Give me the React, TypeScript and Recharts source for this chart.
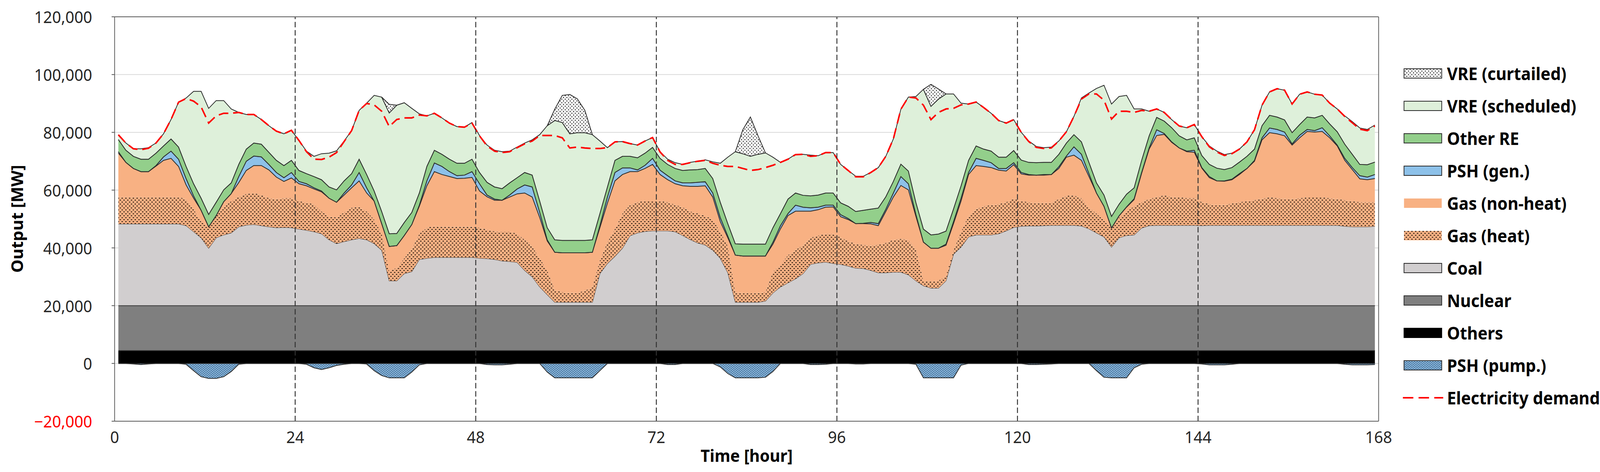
import React from 'react';
import { ComposedChart, Area, Line, XAxis, YAxis, CartesianGrid, ReferenceLine } from 'recharts';

const FONT = "'Noto Sans', 'DejaVu Sans', sans-serif";
const W = 4286;
const H = 1208;

// Fixed layers (MW)
const OTHERS_TOP = 4400;
const NUCLEAR_TOP = 20000;

// Cumulative tops of each layer (MW), hours 1..168 (plotted at the middle of each hour)
const coalTop = [
  48300, 48300, 48300, 48300, 48300, 48300, 48300, 48300, 48300, 47700, 45600, 43500,
  39900, 43500, 44500, 45200, 47300, 47900, 48100, 47700, 47300, 47000, 47100, 47000,
  46500, 46100, 45600, 44900, 42800, 41500, 42200, 42800, 43300, 42800, 41500, 39200,
  28600, 28600, 31100, 31800, 36000, 36400, 36700, 36700, 36700, 36700, 36700, 36700,
  36400, 36300, 36000, 35500, 35300, 35000, 32200, 30000, 26500, 23800, 21200, 21200,
  21200, 21200, 21200, 21200, 31100, 34600, 37100, 39900, 44200, 45200, 45700, 45900,
  45900, 45900, 45600, 44300, 42900, 41700, 41000, 39200, 36400, 31400, 21200, 21200,
  21200, 21200, 21600, 24400, 26500, 27900, 29300, 31100, 34300, 34800, 35100, 34600,
  34300, 33700, 33000, 32900, 32200, 31400, 31400, 31600, 31600, 30700, 28600, 26900,
  26100, 26100, 28600, 37800, 40300, 43800, 44500, 44500, 44500, 44900, 45900, 47100,
  47500, 47600, 47600, 47700, 47800, 47800, 47800, 47800, 47600, 46600, 45200, 43800,
  40300, 43500, 44300, 44500, 46900, 47700, 47800, 47800, 47800, 47800, 47800, 47800,
  47700, 47800, 47800, 47800, 47800, 47800, 47800, 47800, 47800, 47800, 47800, 47800,
  47800, 47800, 47800, 47800, 47800, 47800, 47800, 47500, 47300, 47300, 47300, 47500,
];

const gasHeatTop = [
  57600, 57600, 57600, 57600, 57600, 57600, 57600, 57600, 57600, 56900, 53400, 49100,
  47300, 51200, 54100, 56200, 57600, 58700, 59000, 58300, 57200, 56900, 57200, 57200,
  56200, 55600, 55100, 52600, 50900, 50500, 52300, 53900, 54200, 52600, 49800, 44900,
  31800, 33200, 36400, 39600, 44900, 47000, 47600, 47300, 47300, 47300, 47300, 47300,
  47000, 46300, 45700, 45600, 45600, 44900, 42800, 40500, 36400, 32200, 25400, 24700,
  24400, 24500, 25100, 26500, 35700, 42000, 46600, 51900, 54800, 55800, 56300, 56300,
  56200, 55800, 54900, 54100, 52600, 51900, 51100, 49800, 45600, 40600, 24500, 24400,
  24200, 24400, 24700, 31800, 34300, 37500, 39200, 41000, 43500, 44300, 44900, 44900,
  43600, 42400, 41300, 41000, 40800, 41000, 41700, 42800, 43100, 42800, 39600, 28600,
  28300, 28600, 30400, 39200, 45600, 51200, 53400, 54400, 54800, 55100, 55800, 57000,
  56200, 55800, 55500, 55500, 55600, 56900, 58000, 58200, 57200, 54100, 51900, 49500,
  46900, 50500, 52600, 54400, 55800, 56900, 57600, 58200, 57600, 57500, 57200, 57200,
  55800, 55100, 54800, 54900, 55300, 55800, 56200, 56500, 57000, 57500, 57200, 57000,
  56900, 57200, 57500, 57500, 57500, 57200, 56900, 56500, 56200, 55800, 55800, 55800,
];

const gasTop = [
  72800, 69600, 67500, 66400, 66400, 68300, 70300, 71000, 68200, 61800, 57200, 53000,
  47300, 51200, 56000, 58800, 62600, 66800, 68500, 68500, 67000, 64500, 63000, 64200,
  62200, 61500, 60400, 59400, 57200, 55800, 58300, 60800, 63200, 59000, 56200, 48400,
  40500, 40800, 44300, 48100, 54400, 61500, 66400, 65400, 64700, 64000, 64100, 64400,
  59700, 57700, 56500, 56500, 57600, 58700, 59000, 57600, 50500, 42400, 38500, 38300,
  38300, 38300, 38300, 38500, 47000, 55500, 63200, 65400, 66400, 66400, 67500, 68900,
  65400, 63600, 62200, 61500, 61300, 61300, 61500, 57600, 49100, 43500, 37500, 37200,
  37200, 37200, 37200, 41300, 46600, 51200, 52700, 52700, 52700, 53200, 54100, 54200,
  50800, 49800, 48400, 48400, 48300, 47700, 52600, 57600, 61600, 60100, 50900, 42000,
  39900, 39900, 40900, 48400, 56200, 65400, 68500, 68200, 67800, 66900, 66600, 68800,
  65600, 65200, 65200, 65200, 65400, 67500, 71400, 72100, 70300, 64700, 59000, 54400,
  46900, 51100, 54100, 56700, 65800, 74200, 78900, 79300, 76500, 74600, 73300, 73100,
  67600, 64300, 63200, 63100, 63600, 65400, 67500, 70000, 77400, 79900, 79500, 78800,
  75600, 78100, 80300, 80100, 80300, 78100, 75300, 70300, 67100, 63900, 63600, 64000,
];

const pshGenTop = [
  73300, 69600, 67500, 66400, 66400, 68500, 71500, 73500, 70700, 64000, 58000, 53000,
  47300, 51200, 56000, 58800, 64700, 70000, 71800, 71500, 68900, 66100, 64300, 66100,
  63000, 62200, 60800, 59700, 57200, 55800, 59000, 61800, 66100, 60800, 56200, 48400,
  40500, 40800, 44300, 48100, 54800, 63200, 69400, 68200, 66400, 65000, 65200, 66400,
  62200, 58300, 56900, 56500, 58300, 60400, 61800, 61100, 52300, 42800, 38500, 38300,
  38300, 38300, 38300, 38500, 47700, 57600, 66100, 67700, 67700, 67000, 68600, 71000,
  66900, 65000, 63200, 62500, 62500, 62700, 62900, 59000, 50500, 44100, 37500, 37200,
  37200, 37200, 37200, 42000, 47700, 51900, 54800, 54100, 53900, 54100, 54800, 54800,
  51500, 50200, 48400, 48500, 48800, 48400, 53400, 59000, 64700, 62200, 51600, 42000,
  39900, 39900, 41300, 49100, 57200, 66100, 71000, 70300, 69500, 67500, 67500, 69500,
  66100, 65400, 65200, 65400, 65400, 68100, 71800, 75000, 72400, 65700, 59000, 54400,
  46900, 51100, 54200, 57000, 66100, 74600, 80900, 79600, 76700, 74600, 73500, 73800,
  67800, 64700, 63200, 63200, 63800, 65700, 67500, 70300, 78100, 81500, 81000, 80100,
  76000, 79000, 81000, 80600, 81600, 78800, 75600, 71000, 67800, 65000, 64500, 65400,
];

const otherReTop = [
  77500, 73800, 71700, 70700, 70700, 72800, 75300, 77700, 74900, 68200, 62200, 57200,
  51600, 55800, 60100, 62500, 68900, 74200, 76300, 75900, 73100, 70300, 68500, 70300,
  66800, 65700, 64700, 63600, 61100, 60100, 63200, 65700, 70700, 65400, 59700, 52600,
  44900, 45000, 48800, 52300, 59000, 68200, 73800, 72400, 70700, 69300, 69300, 70700,
  66100, 62700, 61100, 60500, 62500, 64300, 66100, 65200, 56200, 47000, 42800, 42600,
  42600, 42600, 42600, 42800, 51900, 61100, 70300, 71700, 71700, 71200, 72800, 74800,
  71000, 68900, 67500, 66800, 67000, 67100, 67500, 64000, 55800, 48400, 41400, 41300,
  41300, 41300, 41300, 47000, 51900, 56900, 59000, 58200, 58000, 58300, 59000, 59000,
  55600, 54400, 52600, 53000, 53400, 53800, 57700, 63000, 69000, 66600, 55700, 46500,
  44500, 44800, 45800, 53500, 61500, 70300, 75300, 74200, 73500, 71400, 71400, 73700,
  70400, 69600, 69500, 69600, 69600, 72400, 76300, 79200, 76700, 69600, 62500, 58300,
  50900, 55100, 58600, 60800, 70300, 78800, 85200, 83900, 81600, 78800, 77400, 78100,
  72000, 68900, 67600, 67100, 67800, 69700, 71700, 74200, 82300, 85900, 85300, 84300,
  79900, 82700, 85300, 85000, 85900, 82900, 80200, 75900, 72400, 68900, 68800, 69700,
];

const vreTop = [
  79150, 76300, 74300, 74300, 74700, 76300, 79500, 84450, 90450, 91870, 94200, 94200,
  88300, 91000, 91000, 88100, 86900, 86200, 86200, 84450, 82300, 80400, 79500, 80700,
  77200, 73500, 71700, 72600, 72800, 73600, 77000, 80600, 87600, 90100, 92800, 92200,
  86700, 89400, 90250, 88300, 86400, 85700, 86600, 85000, 83200, 82000, 81800, 83400,
  78900, 75600, 73800, 73300, 73500, 74900, 76300, 77400, 79200, 82300, 84100, 83400,
  79500, 79900, 79900, 79200, 77000, 74700, 76700, 76800, 76100, 75600, 77000, 78200,
  73300, 70700, 69500, 68900, 69600, 70000, 70500, 69800, 69300, 71400, 73300, 72600,
  71700, 72400, 72900, 71400, 69600, 70700, 72400, 72400, 72100, 71900, 73000, 73000,
  68900, 66800, 64800, 64800, 66100, 67800, 71700, 77700, 88000, 92200, 92400, 94900,
  89000, 91500, 93300, 93300, 90100, 89800, 90500, 88600, 86600, 84100, 83200, 84400,
  80000, 77000, 75100, 74700, 74900, 77000, 80200, 85500, 91900, 93600, 95200, 96300,
  89800, 92400, 92800, 88100, 88100, 87300, 88100, 86900, 84400, 82200, 81600, 82700,
  78500, 75300, 73500, 72300, 72800, 74200, 76700, 80900, 89400, 94000, 95100, 94600,
  89800, 93200, 94000, 93200, 92900, 90100, 88100, 85700, 83700, 81500, 81000, 82500,
];

// VRE curtailed: hours where it exists and the top of the curtailed block
const curtHours = [35, 36, 37, 57, 58, 59, 60, 61, 62, 63, 82, 83, 84, 85, 86, 107, 108, 109, 110];
const curtTop = [92200, 89700, 89400, 82300, 88000, 92800, 93100, 91600, 87600, 79200, 73300, 80900, 85300, 78900, 72900, 94900, 96600, 95000, 93300];

// PSH pumping (negative, MW)
const pshPump = [
  0, 0, -200, -400, -200, 0, 0, 0, 0, -300, -2500, -4600,
  -5200, -5200, -4600, -2800, -300, 0, 0, 0, 0, 0, 0, 0,
  0, -300, -1500, -2100, -1500, -700, -300, 0, 0, -200, -2500, -4200,
  -5000, -5000, -5000, -3000, -500, 0, 0, 0, 0, 0, 0, 0,
  0, -400, -500, -500, -300, 0, 0, 0, 0, -3000, -5000, -5000,
  -5000, -5000, -5000, -5000, -2500, 0, 0, 0, 0, 0, 0, 0,
  0, -400, -400, 0, 0, 0, 0, 0, -1200, -3500, -5000, -5000,
  -5000, -5000, -4800, -2800, 0, 0, 0, 0, -400, -400, -300, 0,
  0, 0, -200, -200, 0, 0, 0, 0, 0, 0, -300, -5000,
  -5000, -5000, -5000, -5000, -600, 0, 0, 0, 0, 0, 0, 0,
  0, -400, -400, -300, -200, 0, 0, 0, 0, 0, -2500, -4800,
  -5000, -5000, -5000, -1500, -300, 0, 0, 0, 0, 0, 0, 0,
  -200, -500, -500, -500, -300, 0, 0, 0, 0, 0, 0, 0,
  0, 0, 0, 0, 0, 0, 0, -300, -500, -500, -500, -400,
];

const demand = [
  79150, 76300, 74300, 74000, 74500, 76300, 79500, 84450, 90450, 91700, 90800, 88800,
  83200, 85700, 86600, 86600, 86900, 86200, 86200, 84450, 82300, 80400, 79500, 80700,
  77200, 73300, 70700, 70600, 71400, 73000, 76800, 80600, 87600, 90000, 89500, 87300,
  82000, 84450, 85000, 85000, 86000, 85700, 86600, 85000, 83200, 82000, 81800, 83200,
  78800, 75300, 73500, 73000, 73300, 74700, 76000, 77000, 78900, 78900, 78900, 78100,
  74600, 74900, 74600, 74400, 74400, 74700, 76700, 76800, 76100, 75600, 77000, 78200,
  73200, 70300, 68900, 68900, 69500, 70000, 70300, 69300, 68600, 68200, 68200, 67500,
  66800, 67100, 67800, 68600, 69600, 70700, 72300, 72400, 71700, 71900, 73000, 73000,
  68900, 66800, 64600, 64600, 66100, 67800, 71700, 77700, 88000, 92200, 91900, 89400,
  84400, 86900, 88100, 88300, 89500, 89800, 90500, 88600, 86600, 84100, 83200, 84400,
  80000, 76800, 74800, 74400, 74600, 77000, 80200, 85500, 91500, 93300, 93300, 91100,
  84600, 87300, 87300, 86900, 87600, 87300, 88100, 86900, 84400, 82200, 81600, 82700,
  78500, 75000, 73200, 72000, 72600, 74200, 76700, 80900, 89400, 94000, 95100, 94600,
  89800, 93200, 94000, 93200, 92900, 90100, 88100, 85500, 83300, 81100, 80600, 82200,
];

const xTicks = [0, 24, 48, 72, 96, 120, 144, 168];
const dayLines = [24, 48, 72, 96, 120, 144];
const yTicks = [-20000, 0, 20000, 40000, 60000, 80000, 100000, 120000];

const COLORS = {
  others: '#000000',
  nuclear: '#7F7F7F',
  coal: '#D1CECF',
  gas: '#F8B183',
  pshGen: '#8DC1E9',
  otherRe: '#93CF8B',
  vre: '#DEF0DA',
  pump: '#9DC8EA',
  demand: '#FF0000',
  outline: '#2A2A2A',
};

const rows = coalTop.map((_, i) => {
  const up = (lo: number, hi: number) => [lo, Math.max(lo, hi)];
  const coal = up(NUCLEAR_TOP, coalTop[i]);
  const gasHeat = up(coal[1], gasHeatTop[i]);
  const gasNon = up(gasHeat[1], gasTop[i]);
  const pshGen = up(gasNon[1], pshGenTop[i]);
  const otherRe = up(pshGen[1], otherReTop[i]);
  const vre = up(otherRe[1], vreTop[i]);
  const ci = curtHours.indexOf(i);
  return {
    x: i + 0.5,
    others: [0, OTHERS_TOP],
    nuclear: [OTHERS_TOP, NUCLEAR_TOP],
    coal,
    gasHeat,
    gasNon,
    pshGen,
    otherRe,
    vre,
    curt: ci >= 0 ? up(vre[1], curtTop[ci]) : null,
    pump: [pshPump[i], 0],
    demand: demand[i],
  };
});

const fmt = (v: number) => (v < 0 ? '\u2212' : '') + Math.abs(v).toLocaleString('en-US');

const YTick = (props: any) => {
  const { x, y, payload } = props;
  const v = payload.value;
  return (
    <text x={x} y={y} textAnchor="end" dominantBaseline="central" fontSize={42} fontFamily={FONT} fill={v < 0 ? '#FF0000' : '#262626'}>
      {fmt(v)}
    </text>
  );
};

const XTick = (props: any) => {
  const { x, y, payload } = props;
  return (
    <text x={x} y={y} textAnchor="middle" dominantBaseline="central" fontSize={42} fontFamily={FONT} fill="#262626">
      {payload.value}
    </text>
  );
};

const Patterns = ({ p }: { p: string }) => (
  <defs>
    <pattern id={`${p}gasHeat`} width="10" height="10" patternUnits="userSpaceOnUse">
      <rect width="10" height="10" fill={COLORS.gas} />
      <rect x="0.5" y="1" width="3.6" height="2.4" fill="#2b1d12" />
      <rect x="5.5" y="6" width="3.6" height="2.4" fill="#2b1d12" />
    </pattern>
    <pattern id={`${p}curt`} width="9" height="9" patternUnits="userSpaceOnUse">
      <rect width="9" height="9" fill="#FFFFFF" />
      <circle cx="2" cy="2" r="1.4" fill="#111" />
      <circle cx="6.5" cy="6.5" r="1.4" fill="#111" />
    </pattern>
    <pattern id={`${p}pump`} width="7" height="5" patternUnits="userSpaceOnUse">
      <rect width="7" height="5" fill={COLORS.pump} />
      <rect x="0" y="0" width="4.5" height="1.5" fill="#24527f" />
      <rect x="3.5" y="2.5" width="3.5" height="1.5" fill="#24527f" />
      <rect x="0" y="2.5" width="1" height="1.5" fill="#24527f" />
    </pattern>
  </defs>
);

const legendItems = [
  { label: 'VRE (curtailed)', fill: 'url(#lgcurt)', stroke: COLORS.outline },
  { label: 'VRE (scheduled)', fill: COLORS.vre, stroke: COLORS.outline },
  { label: 'Other RE', fill: COLORS.otherRe, stroke: COLORS.outline },
  { label: 'PSH (gen.)', fill: COLORS.pshGen, stroke: COLORS.outline },
  { label: 'Gas (non-heat)', fill: COLORS.gas, stroke: 'none' },
  { label: 'Gas (heat)', fill: 'url(#lggasHeat)', stroke: 'none' },
  { label: 'Coal', fill: COLORS.coal, stroke: COLORS.outline },
  { label: 'Nuclear', fill: COLORS.nuclear, stroke: COLORS.outline },
  { label: 'Others', fill: COLORS.others, stroke: COLORS.others },
  { label: 'PSH (pump.)', fill: 'url(#lgpump)', stroke: COLORS.outline },
  { label: 'Electricity demand', line: true },
];

const areaCommon = {
  type: 'linear' as const,
  isAnimationActive: false,
  dot: false,
  activeDot: false,
  fillOpacity: 1,
  legendType: 'none' as const,
};

export default function App() {
  const vw = typeof document !== 'undefined' ? document.documentElement.clientWidth || window.innerWidth : W;
  const vh = typeof document !== 'undefined' ? document.documentElement.clientHeight || window.innerHeight : H;
  const sx = vw > 0 ? vw / W : 1;
  const sy = vh > 0 ? vh / H : 1;
  return (
    <div style={{ position: 'fixed', left: 0, top: 0, width: vw, height: vh, overflow: 'hidden', background: '#FFFFFF' }}>
      <div style={{ position: 'absolute', left: 0, top: 0, width: W, height: H, transform: `scale(${sx}, ${sy})`, transformOrigin: '0 0' }}>
        <ComposedChart width={W} height={H} data={rows} margin={{ top: 43, right: 593, bottom: 0, left: 0 }}>
          <Patterns p="ch" />
          <CartesianGrid vertical={false} stroke="#D9D9D9" strokeWidth={2} />
          <XAxis
            type="number"
            dataKey="x"
            domain={[0, 168]}
            ticks={xTicks}
            interval={0}
            height={130}
            tickLine={false}
            tickSize={0}
            tickMargin={40}
            tick={<XTick />}
            axisLine={{ stroke: '#595959', strokeWidth: 2 }}
            allowDataOverflow
          />
          <YAxis
            type="number"
            domain={[-20000, 120000]}
            ticks={yTicks}
            interval={0}
            width={307}
            tickSize={8}
            tickMargin={52}
            tick={<YTick />}
            tickLine={{ stroke: '#595959', strokeWidth: 2 }}
            axisLine={{ stroke: '#595959', strokeWidth: 2 }}
            allowDataOverflow
          />
          <Area {...areaCommon} dataKey="others" fill={COLORS.others} stroke={COLORS.others} strokeWidth={1} />
          <Area {...areaCommon} dataKey="nuclear" fill={COLORS.nuclear} stroke={COLORS.outline} strokeWidth={2} />
          <Area {...areaCommon} dataKey="coal" fill={COLORS.coal} stroke={COLORS.outline} strokeWidth={1.5} />
          <Area {...areaCommon} dataKey="gasHeat" fill="url(#chgasHeat)" stroke="none" />
          <Area {...areaCommon} dataKey="gasNon" fill={COLORS.gas} stroke="none" />
          <Area {...areaCommon} dataKey="pshGen" fill={COLORS.pshGen} stroke={COLORS.outline} strokeWidth={2} />
          <Area {...areaCommon} dataKey="otherRe" fill={COLORS.otherRe} stroke={COLORS.outline} strokeWidth={2} />
          <Area {...areaCommon} dataKey="vre" fill={COLORS.vre} stroke={COLORS.outline} strokeWidth={2} />
          <Area {...areaCommon} dataKey="curt" fill="url(#chcurt)" stroke={COLORS.outline} strokeWidth={2} connectNulls={false} />
          <Area {...areaCommon} dataKey="pump" fill="url(#chpump)" stroke={COLORS.outline} strokeWidth={2} />
          <Line
            type="linear"
            dataKey="demand"
            stroke={COLORS.demand}
            strokeWidth={4}
            strokeDasharray="26 13"
            dot={false}
            activeDot={false}
            isAnimationActive={false}
            legendType="none"
          />
          {dayLines.map((d) => (
            <ReferenceLine key={d} x={d} stroke="#333333" strokeWidth={2.5} strokeDasharray="14 7" />
          ))}
          <ReferenceLine y={120000} stroke="#595959" strokeWidth={2} />
          <ReferenceLine x={168} stroke="#595959" strokeWidth={2} />
        </ComposedChart>
        <svg width={W} height={H} style={{ position: 'absolute', left: 0, top: 0, pointerEvents: 'none' }}>
          <Patterns p="lg" />
          <text
            x={45}
            y={560}
            transform="rotate(-90 45 560)"
            textAnchor="middle"
            dominantBaseline="central"
            fontSize={43}
            fontWeight="bold"
            fontFamily={FONT}
            fill="#000"
          >
            Output [MW]
          </text>
          <text x={2000} y={1165} textAnchor="middle" dominantBaseline="central" fontSize={43} fontWeight="bold" fontFamily={FONT} fill="#000">
            Time [hour]
          </text>
          {legendItems.map((it, k) => {
            const cy = 188 + k * 83;
            return (
              <g key={it.label}>
                {it.line ? (
                  <line x1={3758} y1={cy} x2={3866} y2={cy} stroke={COLORS.demand} strokeWidth={4} strokeDasharray="28 14" />
                ) : (
                  <rect x={3761} y={cy - 12} width={101} height={24} fill={it.fill} stroke={it.stroke} strokeWidth={it.stroke === 'none' ? 0 : 2} />
                )}
                <text x={3876} y={cy} dominantBaseline="central" fontSize={44} fontWeight="bold" fontFamily={FONT} fill="#000">
                  {it.label}
                </text>
              </g>
            );
          })}
        </svg>
      </div>
    </div>
  );
}
